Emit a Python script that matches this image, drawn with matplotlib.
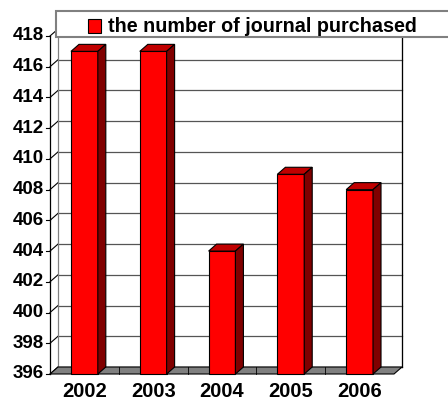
import matplotlib
matplotlib.use('Agg')
import matplotlib.pyplot as plt
from matplotlib.patches import Polygon, Rectangle
from matplotlib.lines import Line2D
from matplotlib.transforms import IdentityTransform

years = ['2002', '2003', '2004', '2005', '2006']
journals = [417, 417, 404, 409, 408]
yticks = list(range(396, 419, 2))
legend_label = 'the number of journal purchased'

# depth of the pseudo-3d box, in pixels
DX, DY = 8, 7
bar_w = 0.39

fig = plt.figure(figsize=(4.48, 4.01), dpi=100)
ax = fig.add_axes([50 / 448, 27 / 401, 344 / 448, 338 / 401])
ax.set_xlim(-0.5, len(years) - 0.5)
ax.set_ylim(396, 418)
ax.axis('off')

ident = IdentityTransform()


def px(x, y, back=False):
    X, Y = ax.transData.transform((x, y))
    if back:
        X, Y = X + DX, Y + DY
    return (X, Y)


def poly(pts, fc, ec='black', lw=0.8, z=1):
    fig.add_artist(Polygon(pts, closed=True, facecolor=fc, edgecolor=ec,
                           linewidth=lw, transform=ident, zorder=z))


def line(p, q, color='black', lw=0.8, z=2):
    fig.add_artist(Line2D([p[0], q[0]], [p[1], q[1]], color=color,
                          linewidth=lw, transform=ident, zorder=z))


x0, x1 = -0.5, len(years) - 0.5
ymin, ymax = yticks[0], yticks[-1]

# back wall
poly([px(x0, ymin, True), px(x1, ymin, True), px(x1, ymax, True),
      px(x0, ymax, True)], 'white', ec='#808080', z=1)

# gridlines on back wall and left wall
for v in yticks:
    line(px(x0, v, True), px(x1, v, True), color='#555555', lw=0.9, z=2)
    line(px(x0, v), px(x0, v, True), color='black', z=2)
    line((px(x0, v)[0] - 4, px(x0, v)[1]), px(x0, v), color='black', z=2)

line(px(x0, ymin, True), px(x0, ymax, True), color='#808080', z=2)
line(px(x1, ymin, True), px(x1, ymax, True), color='black', lw=0.9, z=2)

# floor
poly([px(x0, ymin), px(x1, ymin), px(x1, ymin, True), px(x0, ymin, True)],
     '#808080', ec='black', z=3)
for i in range(1, len(years)):
    line(px(i - 0.5, ymin), (px(i - 0.5, ymin)[0], px(i - 0.5, ymin, True)[1]),
         color='black', lw=0.6, z=3)

# bars
for i, val in enumerate(journals):
    l, r = i - bar_w / 2, i + bar_w / 2
    poly([px(l, ymin), px(r, ymin), px(r, val), px(l, val)], '#FF0000', z=4)
    poly([px(l, val), px(r, val), px(r, val, True), px(l, val, True)],
         '#C00000', z=4)
    poly([px(r, ymin), px(r, ymin, True), px(r, val, True), px(r, val)],
         '#800000', z=4)

# front value axis
line(px(x0, ymin), px(x0, ymax), color='black', lw=0.9, z=5)

for v in yticks:
    X, Y = px(x0, v)
    fig.text((X - 6) / 448, Y / 401, str(v), ha='right', va='center',
             fontsize=13.5, fontweight='bold', family='Liberation Sans')

for i, yr in enumerate(years):
    X, Y = px(i, ymin)
    fig.text(X / 448, (Y - 8) / 401, yr, ha='center', va='top',
             fontsize=14.5, fontweight='bold', family='Liberation Sans')

# legend box
fig.add_artist(Rectangle((56, 401 - 37), 420, 26, facecolor='white',
                         edgecolor='#808080', linewidth=1.5,
                         transform=ident, zorder=6))
fig.add_artist(Rectangle((88, 401 - 33), 13, 14, facecolor='#FF0000',
                         edgecolor='black', linewidth=0.8,
                         transform=ident, zorder=7))
fig.text(108 / 448, (401 - 26) / 401, legend_label, ha='left', va='center',
         fontsize=14.2, fontweight='bold', family='Liberation Sans', zorder=7)

fig.savefig('out.png', dpi=100)
